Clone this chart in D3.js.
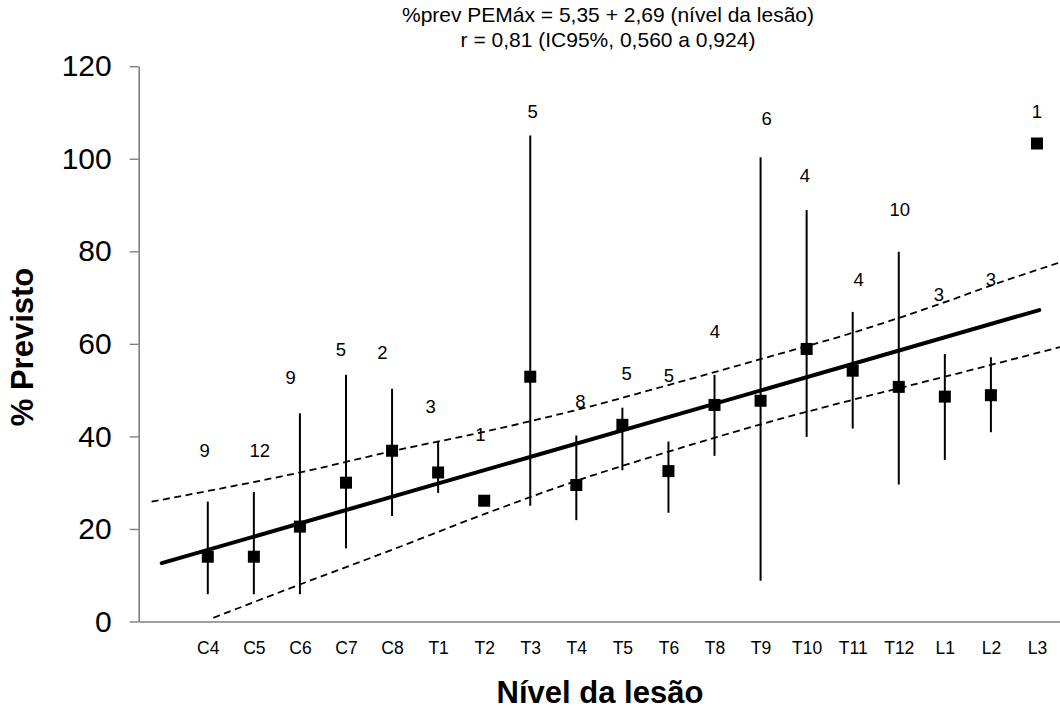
<!DOCTYPE html>
<html>
<head>
<meta charset="utf-8">
<script src="https://cdn.jsdelivr.net/npm/d3@7"></script>
<style>
  html, body { margin: 0; padding: 0; background: #fff; }
  svg { display: block; font-family: "Liberation Sans", Arial, sans-serif; }
</style>
</head>
<body>
<svg id="chart" width="1060" height="709"></svg>
<script>
// ---------- data ----------
const categories = ["C4","C5","C6","C7","C8","T1","T2","T3","T4","T5","T6","T8","T9","T10","T11","T12","L1","L2","L3"];
const means      = [14.0, 14.0, 20.5, 30.0, 36.9, 32.2, 26.1, 52.9, 29.5, 42.5, 32.5, 46.8, 47.7, 58.9, 54.2, 50.7, 48.6, 48.9, 103.3];
const lowErr     = [5.9, 5.9, 5.9, 15.8, 22.8, 27.8, null, 25.0, 21.9, 32.7, 23.5, 35.8, 8.8, 39.9, 41.7, 29.6, 34.9, 40.9, null];
const highErr    = [25.9, 28.0, 45.0, 53.3, 50.3, 38.9, null, 105.0, 40.2, 46.2, 38.9, 53.3, 100.3, 88.9, 66.9, 79.9, 57.8, 57.1, null];
const nCounts    = ["9","12","9","5","2","3","1","5","8","5","5","4","6","4","4","10","3","3","1"];
// label anchor (category units, value units)
const nLabelLevel = [-0.07, 1.13, 1.80, 2.89, 3.79, 4.84, 5.92, 7.05, 8.09, 9.09, 10.01, 11.01, 12.13, 12.96, 14.13, 15.02, 15.87, 17.0, 18.0];
const nLabelValue = [36.9, 36.9, 52.8, 58.7, 58.1, 46.4, 40.3, 110.2, 47.6, 53.6, 53.1, 62.6, 108.6, 96.3, 73.9, 89.1, 70.7, 73.8, 110.3];
// regression line
const regLevel = [-1, 18.05];
const regValue = [12.6, 67.3];
// 95% confidence bands
const upperLevel = [-1.22, 0, 2, 4, 6, 8, 10, 12, 14, 16, 17, 18.5];
const upperValue = [25.9, 28.2, 32.2, 36.8, 41.0, 45.7, 51.1, 56.7, 62.4, 69.0, 72.6, 77.6];
const lowerLevel = [0.12, 2, 4, 6, 8, 10, 12, 14, 16, 18.5];
const lowerValue = [0.8, 8.0, 15.5, 23.2, 30.4, 36.7, 42.6, 47.9, 52.9, 59.3];
const yTicks = [0, 20, 40, 60, 80, 100, 120];
const titleLines = ["%prev PEMáx = 5,35 + 2,69 (nível da lesão)", "r = 0,81 (IC95%, 0,560 a 0,924)"];
const xTitle = "Nível da lesão";
const yTitle = "% Previsto";

// ---------- chart ----------
const svg = d3.select("#chart");
const x = d3.scaleLinear().domain([-1.5, 18.5]).range([138.7, 1060]);
const y = d3.scaleLinear().domain([0, 120]).range([621.5, 66.2]);

// title
svg.append("g").selectAll("text").data(titleLines).join("text")
  .attr("x", 608).attr("y", (d, i) => 22 + i * 25)
  .attr("text-anchor", "middle")
  .attr("font-size", 21)
  .attr("fill", "#000")
  .text(d => d);

// y axis
const yAxis = svg.append("g")
  .attr("transform", `translate(${x(-1.5)},0)`)
  .call(d3.axisLeft(y).tickValues(yTicks).tickSize(9).tickSizeOuter(0).tickPadding(18));
yAxis.select(".domain").attr("stroke", "#808080").attr("stroke-width", 1.6);
yAxis.selectAll(".tick line").attr("stroke", "#808080").attr("stroke-width", 1.4);
yAxis.selectAll(".tick text").attr("font-size", 30).attr("fill", "#000")
  .attr("font-family", "Liberation Sans, Arial, sans-serif");

// x axis
const xAxis = svg.append("g")
  .attr("transform", `translate(0,${y(0)})`)
  .call(d3.axisBottom(x).tickValues(d3.range(categories.length))
    .tickFormat(i => categories[i]).tickSize(0).tickSizeOuter(0).tickPadding(20));
xAxis.select(".domain").attr("stroke", "#808080").attr("stroke-width", 1.6);
xAxis.selectAll(".tick text").attr("font-size", 17.5).attr("fill", "#000")
  .attr("font-family", "Liberation Sans, Arial, sans-serif");

// axis titles
svg.append("text")
  .attr("x", 600).attr("y", 703)
  .attr("text-anchor", "middle")
  .attr("font-size", 31).attr("font-weight", "bold")
  .text(xTitle);
svg.append("text")
  .attr("transform", "translate(33,347) rotate(-90)")
  .attr("text-anchor", "middle")
  .attr("font-size", 31).attr("font-weight", "bold")
  .text(yTitle);

// confidence bands
const bandLine = d3.line().x(d => x(d[0])).y(d => y(d[1])).curve(d3.curveMonotoneX);
svg.append("path")
  .datum(upperLevel.map((l, i) => [l, upperValue[i]]))
  .attr("d", bandLine)
  .attr("fill", "none").attr("stroke", "#000").attr("stroke-width", 1.8)
  .attr("stroke-dasharray", "7,4.5");
svg.append("path")
  .datum(lowerLevel.map((l, i) => [l, lowerValue[i]]))
  .attr("d", bandLine)
  .attr("fill", "none").attr("stroke", "#000").attr("stroke-width", 1.8)
  .attr("stroke-dasharray", "7,4.5");

// regression line
svg.append("path")
  .datum(regLevel.map((l, i) => [l, regValue[i]]))
  .attr("d", d3.line().x(d => x(d[0])).y(d => y(d[1])))
  .attr("fill", "none").attr("stroke", "#000").attr("stroke-width", 4)
  .attr("stroke-linecap", "round");

// error bars
const idx = d3.range(categories.length).filter(i => lowErr[i] != null);
svg.append("g").selectAll("line").data(idx).join("line")
  .attr("x1", i => x(i)).attr("x2", i => x(i))
  .attr("y1", i => y(lowErr[i])).attr("y2", i => y(highErr[i]))
  .attr("stroke", "#000").attr("stroke-width", 2);

// markers
const ms = 12;
svg.append("g").selectAll("rect").data(d3.range(categories.length)).join("rect")
  .attr("x", i => x(i) - ms / 2).attr("y", i => y(means[i]) - ms / 2)
  .attr("width", ms).attr("height", ms).attr("fill", "#000");

// n labels
svg.append("g").selectAll("text").data(d3.range(categories.length)).join("text")
  .attr("x", i => x(nLabelLevel[i])).attr("y", i => y(nLabelValue[i]))
  .attr("dy", "0.35em")
  .attr("text-anchor", "middle")
  .attr("font-size", 18.5).attr("fill", "#000")
  .text(i => nCounts[i]);
</script>
</body>
</html>
